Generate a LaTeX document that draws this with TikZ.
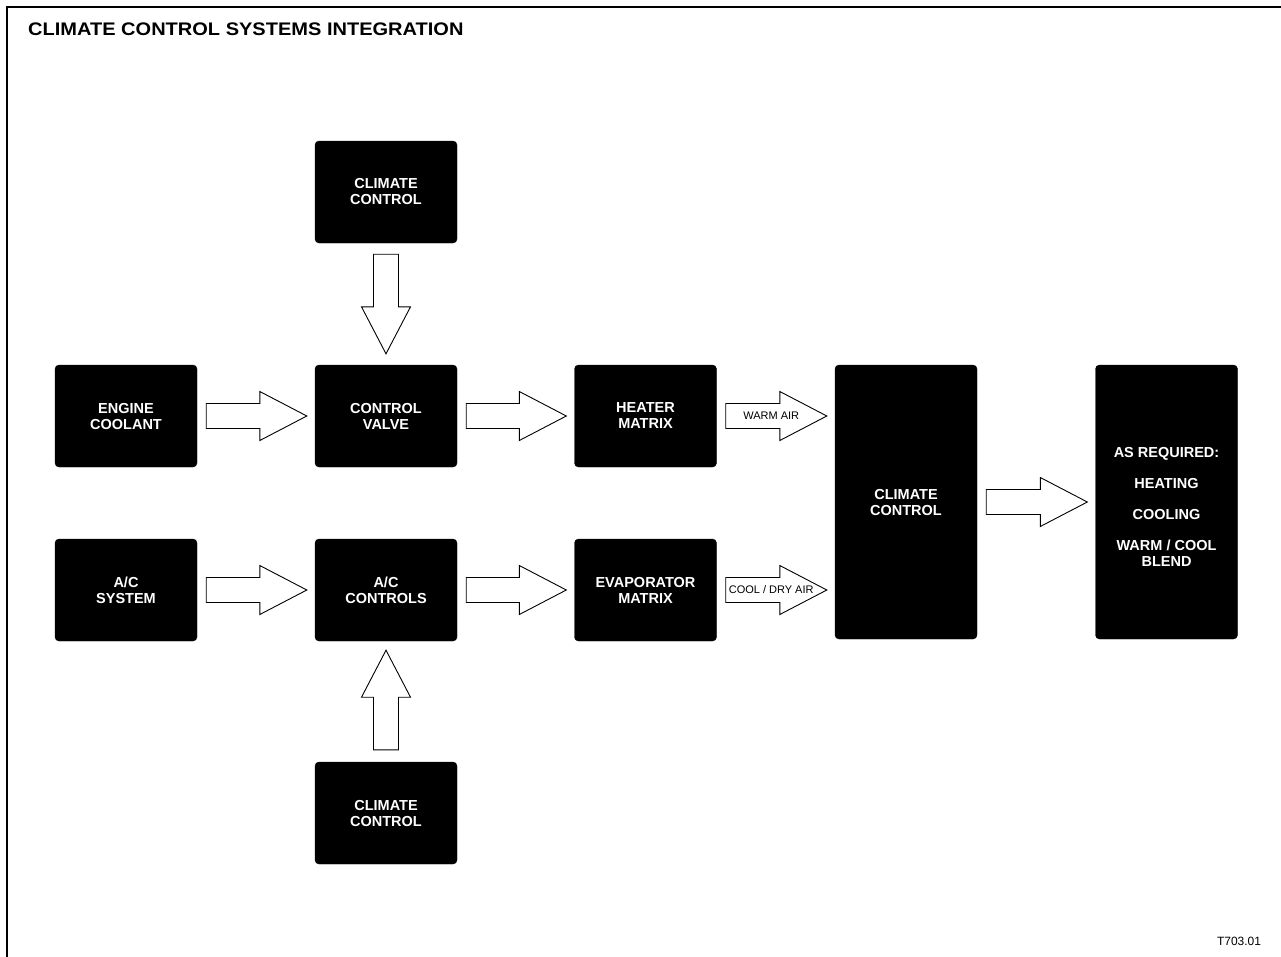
\documentclass[tikz,border=0pt]{standalone}
\usepackage{fontspec}
\setmainfont{Liberation Sans}
\newfontfamily\titlefont[FakeStretch=1.1]{Liberation Sans Bold}
\usetikzlibrary{calc}
\tikzset{
  blk/.style={fill=black, draw=black, rounded corners=4pt, text=white,
    minimum width=142pt, minimum height=102pt, inner sep=0pt,
    align=center, font=\fontsize{14.5}{16}\selectfont\bfseries},
  tallblk/.style={blk, minimum height=274pt},
  barrow/.style={draw=black, fill=white, line width=0.9pt, line join=miter},
  arrlabel/.style={font=\fontsize{11}{12}\selectfont, inner sep=0pt},
  frame/.style={line width=1.6pt}
}
\newcommand{\blockarrow}[2]{%
  \coordinate (bs) at (#1);
  \coordinate (bt) at (#2);
  \coordinate (bh) at ($(bt)!47pt!(bs)$);
  \draw[barrow] ($(bs)!12.5pt!90:(bt)$) -- ($(bh)!12.5pt!-90:(bs)$) -- ($(bh)!24.5pt!-90:(bs)$) -- (bt) -- ($(bh)!24.5pt!90:(bs)$) -- ($(bh)!12.5pt!90:(bs)$) -- ($(bs)!12.5pt!-90:(bt)$) -- cycle;}
\begin{document}
\begin{tikzpicture}[x=1pt,y=-1pt]
\useasboundingbox (0,0) rectangle (1281,956);
\coordinate (fbl) at (7,960);
\coordinate (ftl) at (7,7);
\coordinate (ftr) at (1285,7);
\draw[frame] (fbl) -- (ftl) -- (ftr);
\node[anchor=base west, inner sep=0pt, font=\titlefont\fontsize{18.2}{20}\selectfont] (title) at (28,35.5) {CLIMATE CONTROL SYSTEMS INTEGRATION};

\node[blk] (cct) at (386,192) {CLIMATE\\CONTROL};
\node[blk] (ec)  at (126,416) {ENGINE\\COOLANT};
\node[blk] (cv)  at (386,416) {CONTROL\\VALVE};
\node[blk] (hm)  at (645.5,416) {HEATER\\MATRIX};
\node[blk] (acs) at (126,590) {A/C\\SYSTEM};
\node[blk] (acc) at (386,590) {A/C\\CONTROLS};
\node[blk] (em)  at (645.5,590) {EVAPORATOR\\MATRIX};
\node[blk] (ccb) at (386,813) {CLIMATE\\CONTROL};
\node[tallblk] (ccm) at (906,502) {CLIMATE\\CONTROL};
\node[tallblk] (ar) at (1166.5,502) {};
\node[align=center, text=white, font=\fontsize{14.5}{15.5}\selectfont\bfseries, inner sep=0pt] (artext) at (1166.5,507)
  {AS REQUIRED:\\[15.5pt]HEATING\\[15.5pt]COOLING\\[15.5pt]WARM / COOL\\BLEND};

\blockarrow{$(cct.south)+(0,11)$}{$(cv.north)+(0,-11)$}
\blockarrow{$(ccb.north)+(0,-12)$}{$(acc.south)+(0,9)$}
\blockarrow{$(ec.east)+(9,0)$}{$(cv.west)+(-8,0)$}
\blockarrow{$(cv.east)+(9,0)$}{$(hm.west)+(-8,0)$}
\blockarrow{$(acs.east)+(9,0)$}{$(acc.west)+(-8,0)$}
\blockarrow{$(acc.east)+(9,0)$}{$(em.west)+(-8,0)$}
\blockarrow{$(hm.east)+(9,0)$}{$(ccm.west |- hm.east)+(-8,0)$}
\node[arrlabel] (wa) at ($(bs)!0.45!(bt)$) {WARM AIR};
\blockarrow{$(em.east)+(9,0)$}{$(ccm.west |- em.east)+(-8,0)$}
\node[arrlabel] (cda) at ($(bs)!0.45!(bt)$) {COOL / DRY AIR};
\blockarrow{$(ccm.east)+(9,0)$}{$(ar.west)+(-8,0)$}

\node[font=\fontsize{12}{13}\selectfont, inner sep=0pt] (ref) at (1239,941) {T703.01};
\end{tikzpicture}
\end{document}
